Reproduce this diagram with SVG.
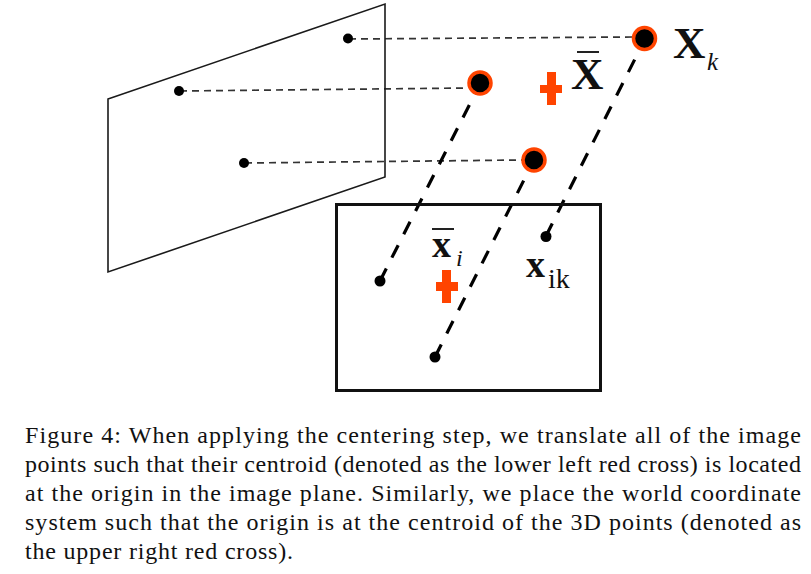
<svg xmlns="http://www.w3.org/2000/svg" width="811" height="574" viewBox="0 0 811 574">
<style>
.thin{fill:none;stroke:#333;stroke-width:1.7;stroke-dasharray:7 5}
.thick{fill:none;stroke:#000;stroke-width:3.2;stroke-dasharray:14 12.200}
.outl{fill:none;stroke:#1a1a1a;stroke-width:1.6}
.world{fill:#000;stroke:#ff4400;stroke-width:3.5}
.dot{fill:#000}
.red{fill:#ff4400}
.lab{font-family:"Liberation Serif",serif;fill:#111}
.b{font-weight:bold}
.cap{font-family:"Liberation Serif",serif;font-size:24px;fill:#111}
.bar{stroke:#222;stroke-width:2}
</style>
<g id="connectors">
<path class="thin" d="M349 39L632 37"/>
<path class="thin" d="M180 91L467 88"/>
<path class="thin" d="M245 163L522 160"/>
<path class="thick" d="M380 281L480 84"/>
<path class="thick" d="M435 357L534 160"/>
<path class="thick" d="M546 236L645 39"/>
</g>
<g id="image-plane-left"><path class="outl" d="M108 99L385 4V177L108 272Z"/></g>
<g id="image-plane-right"><rect x="336.500" y="204.500" width="264" height="186" fill="none" stroke="#111" stroke-width="3"/></g>
<g id="p1"><circle class="dot" cx="348" cy="38.500" r="5"/></g>
<g id="p2"><circle class="dot" cx="179" cy="91" r="5"/></g>
<g id="p3"><circle class="dot" cx="244" cy="163" r="5"/></g>
<g id="w1"><circle class="world" cx="644.500" cy="38.500" r="11"/></g>
<g id="w2"><circle class="world" cx="480" cy="83" r="11"/></g>
<g id="w3"><circle class="world" cx="534" cy="160" r="11"/></g>
<g id="i1"><circle class="dot" cx="380" cy="281" r="5.500"/></g>
<g id="i2"><circle class="dot" cx="435" cy="357" r="5.500"/></g>
<g id="i3"><circle class="dot" cx="546" cy="236.500" r="5.500"/></g>
<g id="cross-upper"><path class="red" d="M547 72h9v13h6v8h-6v12h-9v-12h-7v-8h7z"/></g>
<g id="cross-lower"><path class="red" d="M442 270h9v12h7v9h-7v12h-9v-12h-6v-9h6z"/></g>
<g id="label-Xk"><text class="lab b" x="673" y="58" font-size="45">X</text><text class="lab" x="707" y="70" font-size="25" font-style="italic">k</text></g>
<g id="label-Xbar"><path class="bar" d="M577 52H599"/><text class="lab b" x="571" y="89" font-size="45">X</text></g>
<g id="label-xi"><path class="bar" d="M432 229H454"/><text class="lab b" x="432" y="257" font-size="38">x</text><text class="lab" x="456" y="266" font-size="24" font-style="italic">i</text></g>
<g id="label-xik"><text class="lab b" x="526" y="277" font-size="38">x</text><text class="lab" x="548" y="288" font-size="28">ik</text></g>
<g id="caption" class="cap">
<text x="25" y="443" textLength="776" lengthAdjust="spacing">Figure 4: When applying the centering step, we translate all of the image</text>
<text x="25" y="472" textLength="776" lengthAdjust="spacing">points such that their centroid (denoted as the lower left red cross) is located</text>
<text x="25" y="501" textLength="776" lengthAdjust="spacing">at the origin in the image plane. Similarly, we place the world coordinate</text>
<text x="25" y="530" textLength="776" lengthAdjust="spacing">system such that the origin is at the centroid of the 3D points (denoted as</text>
<text x="25" y="559" textLength="268" lengthAdjust="spacing">the upper right red cross).</text>
</g>
</svg>
